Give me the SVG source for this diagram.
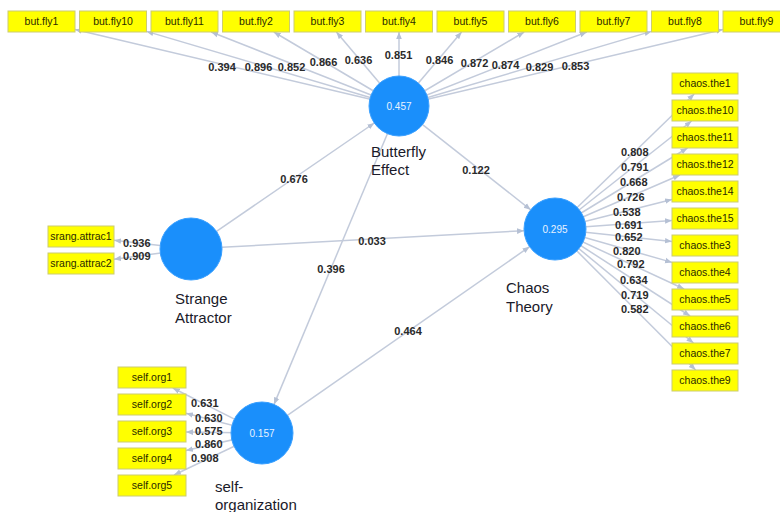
<svg xmlns="http://www.w3.org/2000/svg" width="780" height="512" viewBox="0 0 780 512">
<defs>
<marker id="arr" viewBox="0 0 10 10" refX="10" refY="5" markerWidth="7" markerHeight="7" markerUnits="userSpaceOnUse" orient="auto">
<path d="M0,1 L10,5 L0,9 z" fill="#b5c0d4"/>
</marker>
<style>
.c{stroke:#c3cbdb;stroke-width:1.5;fill:none;marker-end:url(#arr)}
.lv{fill:#1a8ffb;stroke:#3aa0ff;stroke-width:1}
.r2{font-family:"Liberation Sans",Arial,sans-serif;font-size:10px;fill:#e8f2ff;text-anchor:middle}
.ind{fill:#ffff00;stroke:#cccc70;stroke-width:1}
.it{font-family:"Liberation Sans",Arial,sans-serif;font-size:10.5px;fill:#2a2a00;text-anchor:middle}
.lab{font-family:"Liberation Sans",Arial,sans-serif;font-size:15px;fill:#1a1a2a}
.w{font-family:"Liberation Sans",Arial,sans-serif;font-size:11px;font-weight:bold;fill:#2a2a2a}
.m{text-anchor:middle}
</style>
</defs>
<rect width="780" height="512" fill="#ffffff"/>
<g id="connectors">
<line class="c" x1="216.5" y1="231.4" x2="374.3" y2="123"/>
<line class="c" x1="222" y1="247.3" x2="524" y2="230.7"/>
<line class="c" x1="422.6" y1="124.6" x2="530.7" y2="209.8"/>
<line class="c" x1="387.4" y1="133.7" x2="274" y2="404.4"/>
<line class="c" x1="287.4" y1="415.3" x2="529.6" y2="246.7"/>
<line class="c" x1="399" y1="106" x2="75" y2="29.4"/>
<line class="c" x1="399" y1="106" x2="146.5" y2="31.4"/>
<line class="c" x1="399" y1="106" x2="211.2" y2="32"/>
<line class="c" x1="399" y1="106" x2="273.8" y2="32"/>
<line class="c" x1="399" y1="106" x2="336.4" y2="32"/>
<line class="c" x1="399" y1="106" x2="399" y2="32"/>
<line class="c" x1="399" y1="106" x2="461.6" y2="32"/>
<line class="c" x1="399" y1="106" x2="524.2" y2="32"/>
<line class="c" x1="399" y1="106" x2="586.8" y2="32"/>
<line class="c" x1="399" y1="106" x2="651.5" y2="31.4"/>
<line class="c" x1="399" y1="106" x2="723" y2="29.4"/>
<line class="c" x1="555" y1="229" x2="694.2" y2="94"/>
<line class="c" x1="555" y1="229" x2="691.6" y2="121"/>
<line class="c" x1="555" y1="229" x2="687.5" y2="148"/>
<line class="c" x1="555" y1="229" x2="680" y2="175"/>
<line class="c" x1="555" y1="229" x2="672" y2="199.4"/>
<line class="c" x1="555" y1="229" x2="672" y2="220.4"/>
<line class="c" x1="555" y1="229" x2="672" y2="241.4"/>
<line class="c" x1="555" y1="229" x2="672" y2="262.4"/>
<line class="c" x1="555" y1="229" x2="684.1" y2="289"/>
<line class="c" x1="555" y1="229" x2="690.1" y2="316"/>
<line class="c" x1="555" y1="229" x2="693.5" y2="343"/>
<line class="c" x1="555" y1="229" x2="695.6" y2="370"/>
<line class="c" x1="191" y1="249" x2="114" y2="240.3"/>
<line class="c" x1="191" y1="249" x2="114" y2="259.2"/>
<line class="c" x1="262" y1="433" x2="172.8" y2="388"/>
<line class="c" x1="262" y1="433" x2="186" y2="413.3"/>
<line class="c" x1="262" y1="433" x2="186" y2="432"/>
<line class="c" x1="262" y1="433" x2="186" y2="450.6"/>
<line class="c" x1="262" y1="433" x2="174" y2="475"/>
<text class="w m" x="294" y="183">0.676</text>
<text class="w m" x="476" y="174">0.122</text>
<text class="w m" x="372" y="245">0.033</text>
<text class="w m" x="331" y="273">0.396</text>
<text class="w m" x="408" y="335">0.464</text>
<text class="w m" x="222" y="71">0.394</text>
<text class="w m" x="258.5" y="71">0.896</text>
<text class="w m" x="291.5" y="71">0.852</text>
<text class="w m" x="323.5" y="66">0.866</text>
<text class="w m" x="358.5" y="64">0.636</text>
<text class="w m" x="398.5" y="59">0.851</text>
<text class="w m" x="439.5" y="64">0.846</text>
<text class="w m" x="474.5" y="67">0.872</text>
<text class="w m" x="505.5" y="69">0.874</text>
<text class="w m" x="539.5" y="71">0.829</text>
<text class="w m" x="575.5" y="70">0.853</text>
<text class="w" x="621" y="156">0.808</text>
<text class="w" x="621" y="171">0.791</text>
<text class="w" x="620" y="186">0.668</text>
<text class="w" x="617" y="201">0.726</text>
<text class="w" x="613" y="216">0.538</text>
<text class="w" x="615" y="229">0.691</text>
<text class="w" x="615" y="241">0.652</text>
<text class="w" x="613" y="255">0.820</text>
<text class="w" x="617" y="268">0.792</text>
<text class="w" x="620" y="284">0.634</text>
<text class="w" x="621" y="299">0.719</text>
<text class="w" x="621" y="313">0.582</text>
<text class="w" x="123" y="247">0.936</text>
<text class="w" x="123" y="260">0.909</text>
<text class="w" x="191" y="407">0.631</text>
<text class="w" x="195" y="422">0.630</text>
<text class="w" x="195" y="435">0.575</text>
<text class="w" x="195" y="448">0.860</text>
<text class="w" x="191" y="462">0.908</text>
</g>
<g id="butterfly_effect">
<circle class="lv" cx="399" cy="106" r="30"/>
<text class="r2" x="399" y="110">0.457</text>
<text class="lab" x="371" y="157">Butterfly</text>
<text class="lab" x="371" y="175">Effect</text>
</g>
<g id="strange_attractor">
<circle class="lv" cx="191" cy="249" r="31"/>
<text class="lab" x="175" y="304">Strange</text>
<text class="lab" x="175" y="323">Attractor</text>
</g>
<g id="chaos_theory">
<circle class="lv" cx="555" cy="229" r="31"/>
<text class="r2" x="555" y="233">0.295</text>
<text class="lab" x="506" y="293">Chaos</text>
<text class="lab" x="506" y="312">Theory</text>
</g>
<g id="self_organization">
<circle class="lv" cx="262" cy="433" r="31"/>
<text class="r2" x="262" y="437">0.157</text>
<text class="lab" x="215" y="492">self-</text>
<text class="lab" x="215" y="510">organization</text>
</g>
<g id="but_fly1"><rect class="ind" x="8" y="11" width="67" height="21"/><text class="it" x="41.5" y="25">but.fly1</text></g>
<g id="but_fly10"><rect class="ind" x="79.5" y="11" width="67" height="21"/><text class="it" x="113" y="25">but.fly10</text></g>
<g id="but_fly11"><rect class="ind" x="151" y="11" width="67" height="21"/><text class="it" x="184.5" y="25">but.fly11</text></g>
<g id="but_fly2"><rect class="ind" x="222.5" y="11" width="67" height="21"/><text class="it" x="256" y="25">but.fly2</text></g>
<g id="but_fly3"><rect class="ind" x="294" y="11" width="67" height="21"/><text class="it" x="327.5" y="25">but.fly3</text></g>
<g id="but_fly4"><rect class="ind" x="365.5" y="11" width="67" height="21"/><text class="it" x="399" y="25">but.fly4</text></g>
<g id="but_fly5"><rect class="ind" x="437" y="11" width="67" height="21"/><text class="it" x="470.5" y="25">but.fly5</text></g>
<g id="but_fly6"><rect class="ind" x="508.5" y="11" width="67" height="21"/><text class="it" x="542" y="25">but.fly6</text></g>
<g id="but_fly7"><rect class="ind" x="580" y="11" width="67" height="21"/><text class="it" x="613.5" y="25">but.fly7</text></g>
<g id="but_fly8"><rect class="ind" x="651.5" y="11" width="67" height="21"/><text class="it" x="685" y="25">but.fly8</text></g>
<g id="but_fly9"><rect class="ind" x="723" y="11" width="67" height="21"/><text class="it" x="756.5" y="25">but.fly9</text></g>
<g id="chaos_the1"><rect class="ind" x="672" y="73" width="66" height="21"/><text class="it" x="705" y="87">chaos.the1</text></g>
<g id="chaos_the10"><rect class="ind" x="672" y="100" width="66" height="21"/><text class="it" x="705" y="114">chaos.the10</text></g>
<g id="chaos_the11"><rect class="ind" x="672" y="127" width="66" height="21"/><text class="it" x="705" y="141">chaos.the11</text></g>
<g id="chaos_the12"><rect class="ind" x="672" y="154" width="66" height="21"/><text class="it" x="705" y="168">chaos.the12</text></g>
<g id="chaos_the14"><rect class="ind" x="672" y="181" width="66" height="21"/><text class="it" x="705" y="195">chaos.the14</text></g>
<g id="chaos_the15"><rect class="ind" x="672" y="208" width="66" height="21"/><text class="it" x="705" y="222">chaos.the15</text></g>
<g id="chaos_the3"><rect class="ind" x="672" y="235" width="66" height="21"/><text class="it" x="705" y="249">chaos.the3</text></g>
<g id="chaos_the4"><rect class="ind" x="672" y="262" width="66" height="21"/><text class="it" x="705" y="276">chaos.the4</text></g>
<g id="chaos_the5"><rect class="ind" x="672" y="289" width="66" height="21"/><text class="it" x="705" y="303">chaos.the5</text></g>
<g id="chaos_the6"><rect class="ind" x="672" y="316" width="66" height="21"/><text class="it" x="705" y="330">chaos.the6</text></g>
<g id="chaos_the7"><rect class="ind" x="672" y="343" width="66" height="21"/><text class="it" x="705" y="357">chaos.the7</text></g>
<g id="chaos_the9"><rect class="ind" x="672" y="370" width="66" height="21"/><text class="it" x="705" y="384">chaos.the9</text></g>
<g id="srang_attrac1"><rect class="ind" x="48" y="226" width="66" height="21"/><text class="it" x="81" y="240">srang.attrac1</text></g>
<g id="srang_attrac2"><rect class="ind" x="48" y="253" width="66" height="21"/><text class="it" x="81" y="267">srang.attrac2</text></g>
<g id="self_org1"><rect class="ind" x="118" y="367" width="68" height="21"/><text class="it" x="152" y="381">self.org1</text></g>
<g id="self_org2"><rect class="ind" x="118" y="394" width="68" height="21"/><text class="it" x="152" y="408">self.org2</text></g>
<g id="self_org3"><rect class="ind" x="118" y="421" width="68" height="21"/><text class="it" x="152" y="435">self.org3</text></g>
<g id="self_org4"><rect class="ind" x="118" y="448" width="68" height="21"/><text class="it" x="152" y="462">self.org4</text></g>
<g id="self_org5"><rect class="ind" x="118" y="475" width="68" height="21"/><text class="it" x="152" y="489">self.org5</text></g>
</svg>
